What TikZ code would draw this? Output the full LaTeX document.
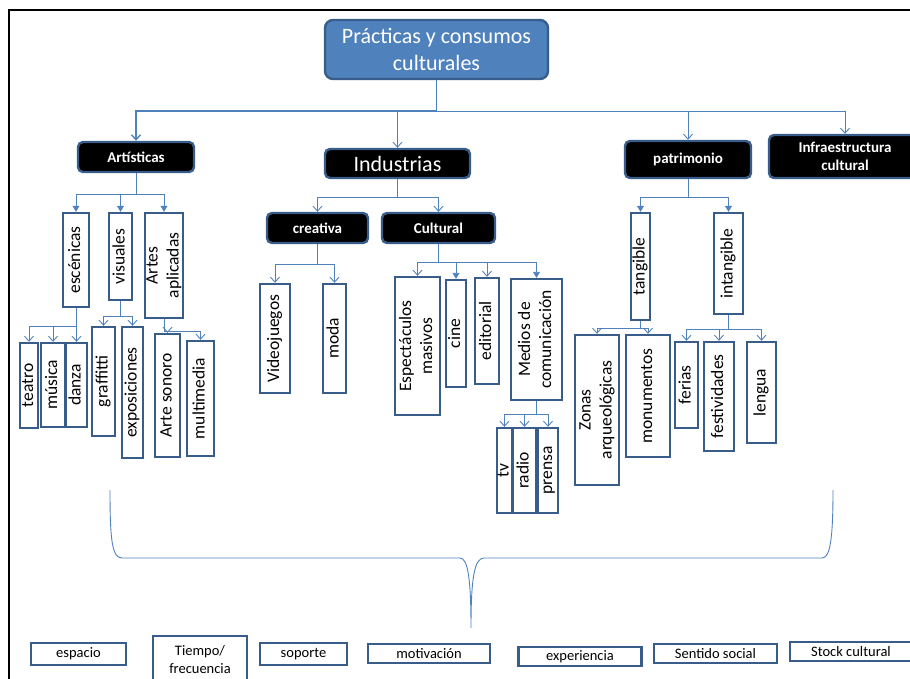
\documentclass[tikz,border=0pt]{standalone}
\usepackage{fontspec}
\setmainfont{Carlito}
\usetikzlibrary{arrows.meta}
\definecolor{edge}{RGB}{56,93,138}
\definecolor{wire}{RGB}{79,129,189}
% rotated label of zero size, centred in its box
\newcommand{\vlab}[1]{\makebox[0pt]{\raisebox{-0.5\height}[0pt][0pt]{\rotatebox{90}{\begin{tabular}{@{}c@{}}#1\end{tabular}}}}}

\begin{document}
\begin{tikzpicture}[x=1pt,y=-1pt,
    leaf/.style={draw=edge, line width=2.4pt, inner sep=0pt, font=\fontsize{17.5}{21}\selectfont},
    head/.style={draw=edge, fill=black, text=white, line width=2.4pt, rounded corners=5pt, inner sep=0pt, align=center, font=\bfseries\fontsize{15}{18}\selectfont},
    tag/.style={draw=edge, line width=2.4pt, inner sep=0pt, align=center, font=\fontsize{14.5}{18}\selectfont},
    link/.style={draw=wire, line width=0.9pt, -{Straight Barb[length=5pt,width=9pt]}},
    linkf/.style={draw=wire, line width=0.9pt, -{Triangle[length=6pt,width=7pt]}}]
    \useasboundingbox (0,0) rectangle (910,679);
    \draw[line width=1.8pt] (9,690) -- (9,10) -- (920,10);

    \node[draw=edge, fill=wire, text=white, line width=2.4pt, rounded corners=8pt, inner sep=0pt, align=center,
      minimum width=223pt, minimum height=59pt, font=\fontsize{22}{27}\selectfont] (top) at (436.5,49.5) {Prácticas y consumos\\culturales};

    \node[head, minimum width=116pt, minimum height=30pt] (art) at (136,157) {Artísticas};
    \node[head, minimum width=145pt, minimum height=29pt, font=\fontsize{22}{26}\selectfont] (ind) at (397.5,163.5) {Industrias};
    \node[head, minimum width=126pt, minimum height=37pt] (pat) at (688,159.5) {patrimonio};
    \node[head, minimum width=152pt, minimum height=43pt] (inf) at (845,156.5) {Infraestructura\\cultural};

    \draw[link, line width=1.4pt] (top.south) -- ++(0,31) -| (art.north);
    \draw[link] (top.south) -- ++(0,31) -| (ind.north);
    \draw[link] (top.south) -- ++(0,31) -| (pat.north);
    \draw[link] (top.south) -- ++(0,31) -| (inf.north);

    % artisticas
    \node[leaf, minimum width=26pt, minimum height=94pt] (esc) at (76,260) {\vlab{escénicas}};
    \node[leaf, minimum width=23pt, minimum height=87pt] (vis) at (120.5,256.5) {\vlab{visuales}};
    \node[leaf, minimum width=38pt, minimum height=105pt] (apl) at (164,265.5) {\vlab{Artes\\aplicadas}};
    \draw[linkf] (art.south) -- ++(0,21) -| (esc.north);
    \draw[linkf] (art.south) -- ++(0,21) -| (vis.north);
    \draw[linkf] (art.south) -- ++(0,21) -| (apl.north);

    \node[leaf, minimum width=18pt, minimum height=85pt] (tea) at (29,385.5) {\vlab{teatro}};
    \node[leaf, minimum width=24pt, minimum height=84pt] (mus) at (53,385) {\vlab{música}};
    \node[leaf, minimum width=21pt, minimum height=84pt] (dan) at (76.5,385) {\vlab{danza}};
    \draw[link] (esc.south) -- ++(0,18) -| (tea.north);
    \draw[link] (esc.south) -- ++(0,18) -| (mus.north);
    \draw[link] (esc.south) -- ++(0,18) -| (dan.north);

    \node[leaf, minimum width=23pt, minimum height=109pt] (gra) at (103.5,381.5) {\vlab{graffitti}};
    \node[leaf, minimum width=21pt, minimum height=131pt] (exp) at (132.5,392.5) {\vlab{exposiciones}};
    \draw[link] (vis.south) -- ++(0,15) -| (gra.north);
    \draw[link] (vis.south) -- ++(0,15) -| (exp.north);

    \node[leaf, minimum width=25pt, minimum height=123pt] (son) at (167.5,395.5) {\vlab{Arte sonoro}};
    \node[leaf, minimum width=27pt, minimum height=115pt] (mul) at (200.5,398.5) {\vlab{multimedia}};
    \draw[link] (apl.south) -- ++(0,12) -| (son.north);
    \draw[link] (apl.south) -- ++(0,12) -| (mul.north);

    % industrias
    \node[head, minimum width=101pt, minimum height=30pt] (cre) at (317.5,228) {creativa};
    \node[head, minimum width=113pt, minimum height=30pt] (cul) at (438.5,228) {Cultural};
    \draw[link] (ind.south) -- ++(0,18) -| (cre.north);
    \draw[link] (ind.south) -- ++(0,18) -| (cul.north);

    \node[leaf, minimum width=30pt, minimum height=109pt] (vid) at (275,338.5) {\vlab{Videojuegos}};
    \node[leaf, minimum width=23pt, minimum height=109pt] (mod) at (334.5,338.5) {\vlab{moda}};
    \draw[link] (cre.south) -- ++(0,20) -| (vid.north);
    \draw[link] (cre.south) -- ++(0,20) -| (mod.north);

    \node[leaf, minimum width=45pt, minimum height=138pt] (esp) at (417.5,346) {\vlab{Espectáculos\\masivos}};
    \node[leaf, minimum width=20pt, minimum height=107pt] (cin) at (456,333.5) {\vlab{cine}};
    \node[leaf, minimum width=24pt, minimum height=106pt] (edi) at (487,331) {\vlab{editorial}};
    \node[leaf, minimum width=51pt, minimum height=121pt] (med) at (536.5,339.5) {\vlab{Medios de\\comunicación}};
    \draw[link] (cul.south) -- ++(0,18) -| (esp.north);
    \draw[linkf] (cul.south) -- ++(0,18) -| (cin.north);
    \draw[link] (cul.south) -- ++(0,18) -| (edi.north);
    \draw[linkf] (cul.south) -- ++(0,18) -| (med.north);

    \node[leaf, minimum width=15pt, minimum height=85pt] (tv) at (504.5,470.5) {\vlab{tv}};
    \node[leaf, minimum width=23pt, minimum height=85pt] (rad) at (524.5,470.5) {\vlab{radio}};
    \node[leaf, minimum width=20pt, minimum height=85pt] (pre) at (548,470.5) {\vlab{prensa}};
    \draw[link] (med.south) -- ++(0,13) -| (tv.north);
    \draw[link] (med.south) -- ++(0,13) -| (rad.north);
    \draw[link] (med.south) -- ++(0,13) -| (pre.north);

    % patrimonio
    \node[leaf, minimum width=19pt, minimum height=107pt] (tan) at (640.5,266.5) {\vlab{tangible}};
    \node[leaf, minimum width=29pt, minimum height=101pt] (int) at (728.5,263.5) {\vlab{intangible}};
    \draw[linkf] (pat.south) -- ++(0,18) -| (tan.north);
    \draw[linkf] (pat.south) -- ++(0,18) -| (int.north);

    \node[leaf, minimum width=44pt, minimum height=150pt] (zon) at (597,410) {\vlab{Zonas\\arqueológicas}};
    \node[leaf, minimum width=44pt, minimum height=122pt] (mon) at (648,396) {\vlab{monumentos}};
    \draw[link] (tan.south) -- ++(0,7) -| (zon.north);
    \draw[link] (tan.south) -- ++(0,7) -| (mon.north);

    \node[leaf, minimum width=23pt, minimum height=86pt] (fer) at (686.5,385) {\vlab{ferias}};
    \node[leaf, minimum width=30pt, minimum height=109pt] (fes) at (719,396.5) {\vlab{festividades}};
    \node[leaf, minimum width=29pt, minimum height=101pt] (len) at (761.5,392.5) {\vlab{lengua}};
    \draw[link] (int.south) -- ++(0,14) -| (fer.north);
    \draw[link] (int.south) -- ++(0,14) -| (fes.north);
    \draw[link] (int.south) -- ++(0,14) -| (len.north);

    % brace
    \coordinate (bl) at (110,490);
    \coordinate (tip) at (471,628);
    \coordinate (br) at (833,490);
    \draw[wire, line width=0.9pt] (bl) .. controls (110,540) and (112,558) .. (122,558) -- (460,558)
      .. controls (468,558) and (471,580) .. (tip)
      .. controls (471,580) and (474,558) .. (484,558) -- (822,558)
      .. controls (830,558) and (833,540) .. (br);

    % bottom row
    \node[tag, minimum width=95pt, minimum height=22pt] (spa) at (78.5,654) {espacio};
    \node[tag, minimum width=94pt, minimum height=48pt] (tie) at (200,660) {Tiempo/\\frecuencia};
    \node[tag, minimum width=87pt, minimum height=22pt] (sop) at (303.5,654) {soporte};
    \node[tag, minimum width=122pt, minimum height=19pt] (mot) at (429,653.5) {motivación};
    \node[tag, minimum width=123pt, minimum height=19pt] (exe) at (580,656.5) {experiencia};
    \node[tag, minimum width=123pt, minimum height=19pt] (sen) at (715.5,653.5) {Sentido social};
    \node[tag, minimum width=122pt, minimum height=19pt] (sto) at (851,651.5) {Stock cultural};
\end{tikzpicture}
\end{document}
